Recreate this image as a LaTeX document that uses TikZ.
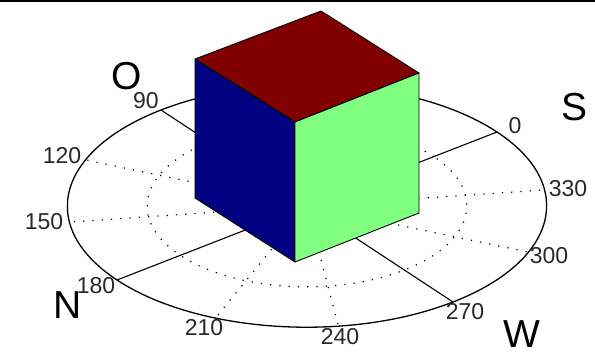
\documentclass[tikz,border=0pt]{standalone}
\usepackage{fontspec}
\setmainfont{Liberation Sans}
\usepackage{xcolor}
\usetikzlibrary{positioning}
\definecolor{cubetop}{RGB}{128, 0, 0}
\definecolor{cubeleft}{RGB}{0, 0, 128}
\definecolor{cuberight}{RGB}{128, 255, 128}
\definecolor{anglegray}{RGB}{40, 40, 40}
\tikzset{
    griddots/.style={line width=1.2pt, dash pattern=on 1.2pt off 8.1pt},
    anglelabel/.style={text=anglegray, font=\fontsize{23}{23}\selectfont, inner sep=0pt},
    compasslabel/.style={font=\fontsize{39}{39}\selectfont, inner sep=0pt},
    cubeface/.style={draw=black, line width=0.9pt, line join=round}
}
\begin{document}
\begin{tikzpicture}[x=1pt, y=-1pt]
\useasboundingbox (0,0) rectangle (595,358);

% Top edge
\fill[black] (0,0) rectangle (595,2.4);

% Polar grid
\begin{scope}[cm={190,74,-146,96,(307,206)}, x=1pt, y=1pt]
    \foreach \a in {30,60,120,150,210,240,300,330} {
        \draw[griddots] (0,0) -- (\a:1);
    }
    \draw[griddots] (0,0) circle (0.667);
    \foreach \a in {0,90,180,270} {
        \draw[line width=1.1pt] (0,0) -- (\a:1);
    }
    \draw[line width=1.3pt] (0,0) circle (1);
\end{scope}

% Angle labels
\node[anglelabel] (deg0) at (515,126) {0};
\node[anglelabel] (deg90) at (146,101) {90};
\node[anglelabel] (deg120) at (62,156) {120};
\node[anglelabel] (deg150) at (44,222) {150};
\node[anglelabel] (deg180) at (96,286) {180};
\node[anglelabel] (deg210) at (204,328) {210};
\node[anglelabel] (deg240) at (340,337) {240};
\node[anglelabel] (deg270) at (465,312) {270};
\node[anglelabel] (deg300) at (549,256) {300};
\node[anglelabel] (deg330) at (568,189) {330};

% Compass letters
\node[compasslabel] (north) at (68,305) {N};
\node[compasslabel] (east) at (127,76) {O};
\node[compasslabel] (south) at (575,107) {S};
\node[compasslabel] (west) at (522,334) {W};

% Cube
\fill[cubetop, cubeface] (195,59) -- (321,11) -- (419,73) -- (295,122) -- cycle;
\fill[cubeleft, cubeface] (195,59) -- (295,122) -- (295,262) -- (195,198) -- cycle;
\fill[cuberight, cubeface] (295,122) -- (419,73) -- (419,213) -- (295,262) -- cycle;

\end{tikzpicture}
\end{document}
